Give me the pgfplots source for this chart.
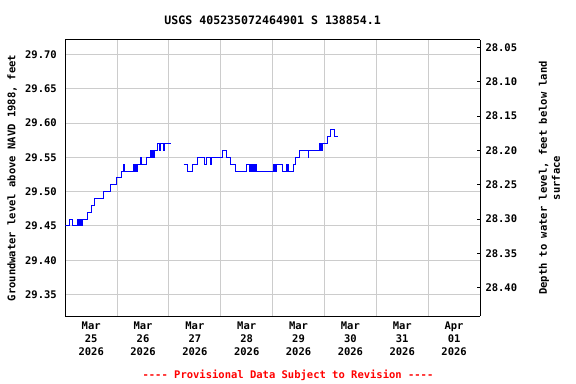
\documentclass[border=0pt]{standalone}
\usepackage{fontspec}
\setmainfont{DejaVu Sans Mono}
\usepackage{pgfplots}
\pgfplotsset{compat=1.18}
\usepackage{pgfplotstable}
\definecolor{gridgray}{RGB}{204,204,204}
\definecolor{usgsblue}{RGB}{0,0,255}
\definecolor{usgsred}{RGB}{255,0,0}
\newcommand{\dashes}{-\kern0pt-\kern0pt-\kern0pt-}
\pgfplotstableread{
d lev
0.000 29.45
0.090 29.46
0.135 29.45
0.230 29.46
0.264 29.45
0.283 29.46
0.291 29.45
0.299 29.46
0.307 29.45
0.315 29.46
0.321 29.45
0.327 29.46
0.430 29.47
0.513 29.48
0.558 29.49
0.731 29.50
0.879 29.51
0.988 29.52
1.075 29.53
1.130 29.54
1.140 29.53
1.321 29.54
1.329 29.53
1.337 29.54
1.345 29.53
1.353 29.54
1.361 29.53
1.369 29.54
1.377 29.53
1.385 29.54
1.450 29.55
1.462 29.54
1.565 29.55
1.648 29.56
1.656 29.55
1.664 29.56
1.672 29.55
1.680 29.56
1.688 29.55
1.696 29.56
1.704 29.55
1.712 29.56
1.777 29.57
1.821 29.56
1.840 29.57
1.885 29.56
1.917 29.57
2.046 29.57
}\segA
\pgfplotstableread{
d lev
2.283 29.54
2.360 29.53
2.450 29.54
2.558 29.55
2.687 29.54
2.719 29.55
2.808 29.54
2.827 29.55
3.040 29.56
3.115 29.55
3.190 29.54
3.290 29.53
3.500 29.54
3.552 29.53
3.560 29.54
3.570 29.53
3.580 29.54
3.590 29.53
3.600 29.54
3.610 29.53
3.620 29.54
3.630 29.53
3.645 29.54
3.660 29.53
3.675 29.54
3.692 29.53
4.013 29.54
4.021 29.53
4.029 29.54
4.037 29.53
4.045 29.54
4.053 29.53
4.065 29.54
4.190 29.53
4.260 29.54
4.270 29.53
4.280 29.54
4.290 29.53
4.300 29.54
4.310 29.53
4.400 29.54
4.450 29.55
4.520 29.56
4.690 29.55
4.700 29.56
4.900 29.57
4.908 29.56
4.916 29.57
4.924 29.56
4.932 29.57
4.940 29.56
4.948 29.57
4.956 29.56
4.964 29.57
5.050 29.58
5.120 29.59
5.190 29.58
5.270 29.58
}\segB
\begin{document}
\begin{tikzpicture}
\useasboundingbox (-65.3bp,-68bp) rectangle (510.7bp,316bp);
\begin{axis}[
  scale only axis,
  width=414.7bp, height=276bp,
  xmin=0, xmax=8,
  ymin=29.3187, ymax=29.721,
  axis y line*=left,
  axis x line*=box,
  xtick={0.5,1.5,...,7.5},
  xticklabels={{Mar\\25\\2026},{Mar\\26\\2026},{Mar\\27\\2026},{Mar\\28\\2026},{Mar\\29\\2026},{Mar\\30\\2026},{Mar\\31\\2026},{Apr\\01\\2026}},
  xticklabel style={align=center, font=\fontsize{10.5bp}{13bp}\selectfont\bfseries, yshift=-2bp},
  minor xtick={1,2,...,7},
  xminorgrids=true,
  major tick length=0pt,
  minor tick length=0pt,
  ytick={29.35,29.40,...,29.70},
  ymajorgrids=true,
  grid style={gridgray, line width=1bp},
  minor grid style={gridgray, line width=1bp},
  yticklabel style={/pgf/number format/.cd, fixed, fixed zerofill, precision=2, /tikz/.cd, font=\fontsize{10.5bp}{13bp}\selectfont\bfseries, xshift=-5bp},
  /pgf/number format/assume math mode=true,
  axis line style={black, line width=1bp},
  ylabel={Groundwater level above NAVD 1988, feet},
  every axis y label/.style={at={(axis description cs:-0.1285,0.5)}, rotate=90, anchor=center, font=\fontsize{10.5bp}{13bp}\selectfont\bfseries},
  title={USGS 405235072464901 S 138854.1},
  every axis title/.style={at={(axis description cs:0.5,1)}, anchor=center, yshift=20bp, font=\fontsize{11.6bp}{13bp}\selectfont\bfseries},
  clip mode=individual,
]
\addplot[usgsblue, const plot, line width=1bp] table[x=d, y=lev] {\segA};
\addplot[usgsblue, const plot, line width=1bp] table[x=d, y=lev] {\segB};
\node[font=\fontsize{10.5bp}{13bp}\selectfont\bfseries, text=usgsred, anchor=center] at (axis description cs:0.537,0) [yshift=-59bp] {\dashes{} Provisional Data Subject to Revision \dashes};
\end{axis}
\begin{axis}[
  scale only axis,
  width=414.7bp, height=276bp,
  xmin=0, xmax=8,
  ymin=28.039, ymax=28.4413,
  y dir=reverse,
  axis y line*=right,
  axis x line=none,
  ytick={28.05,28.10,...,28.40},
  tick align=inside,
  major tick length=3bp,
  tick style={black, line width=1bp},
  yticklabel style={/pgf/number format/.cd, fixed, fixed zerofill, precision=2, /tikz/.cd, font=\fontsize{10.5bp}{13bp}\selectfont\bfseries, xshift=2bp},
  /pgf/number format/assume math mode=true,
  axis line style={black, line width=1bp},
  ylabel={Depth to water level, feet below land\\surface},
  every axis y label/.style={at={(axis description cs:1.1676,0.5)}, rotate=90, anchor=center, align=center, font=\fontsize{10.5bp}{13bp}\selectfont\bfseries},
]
\end{axis}
\end{tikzpicture}
\end{document}
